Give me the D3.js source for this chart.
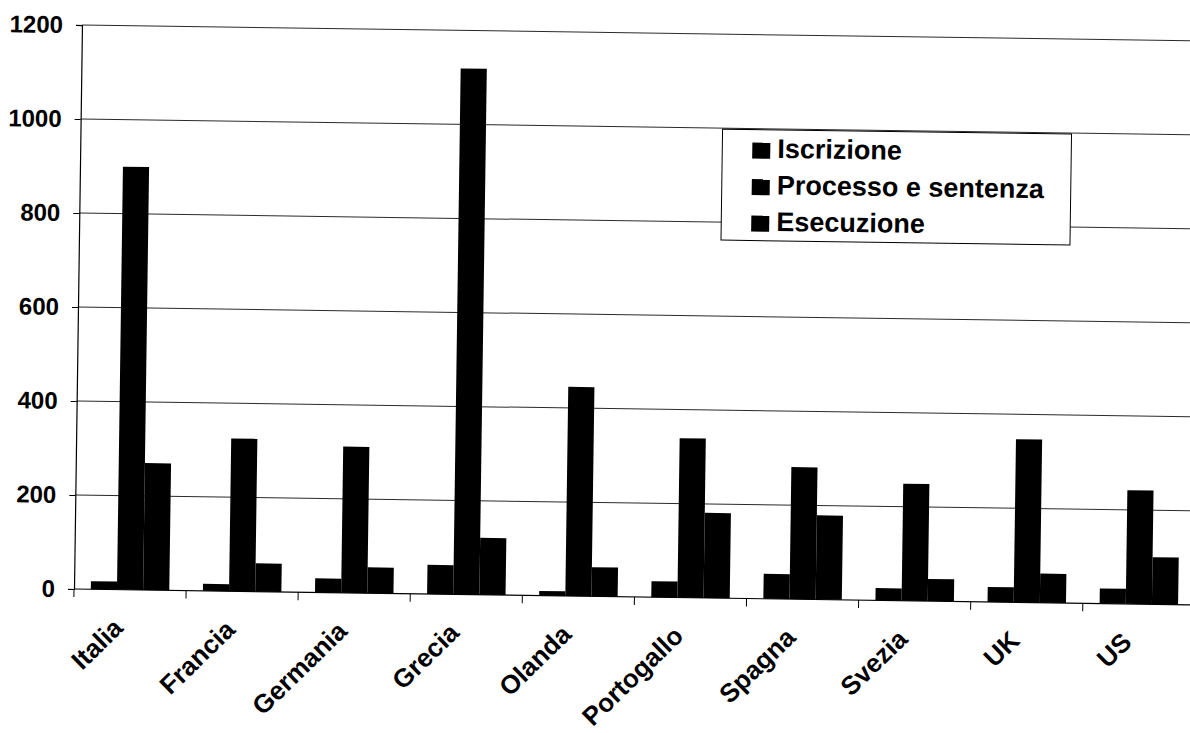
<!DOCTYPE html>
<html>
<head>
<meta charset="utf-8">
<script src="https://cdn.jsdelivr.net/npm/d3@7"></script>
<style>
  html, body { margin: 0; padding: 0; background: #fff; }
  svg { display: block; }
  text { font-family: "Liberation Sans", Arial, sans-serif; font-weight: bold; fill: #000; }
</style>
</head>
<body>
<svg id="chart" width="1190" height="733"></svg>
<script>
const categories = ["Italia", "Francia", "Germania", "Grecia", "Olanda", "Portogallo", "Spagna", "Svezia", "UK", "US"];
const seriesNames = ["Iscrizione", "Processo e sentenza", "Esecuzione"];
const iscrizione = [17, 15, 30, 62, 10, 34, 53, 26, 32, 32];
const processo   = [900, 325, 311, 1119, 445, 339, 281, 249, 347, 242];
const esecuzione = [270, 60, 55, 121, 62, 181, 179, 47, 62, 100];
const yTicks = [0, 200, 400, 600, 800, 1000, 1200];

const seriesValues = [iscrizione, processo, esecuzione];
const rows = categories.map((c, i) => ({ cat: c, vals: seriesValues.map(s => s[i]) }));

const svg = d3.select("#chart");
const pLeft = 74, pRight = 1195, pTop = 25, pBottom = 589;
const g = svg.append("g").attr("transform", `rotate(0.81 ${pLeft} ${pBottom})`);

const x0 = d3.scaleBand().domain(categories).range([pLeft, pRight]).paddingInner(0.3).paddingOuter(0.15);
const x1 = d3.scaleBand().domain(d3.range(seriesNames.length)).range([0, x0.bandwidth()]);
const y = d3.scaleLinear().domain([0, 1200]).range([pBottom, pTop]);

// gridlines
g.append("g").selectAll("line").data(yTicks.filter(d => d > 0)).join("line")
  .attr("x1", pLeft).attr("x2", pRight)
  .attr("y1", d => y(d)).attr("y2", d => y(d))
  .attr("stroke", "#2a2a2a").attr("stroke-width", 1);

// y axis
const yAxis = g.append("g").attr("transform", `translate(${pLeft},0)`)
  .call(d3.axisLeft(y).tickValues(yTicks).tickSize(6).tickPadding(13).tickFormat(d3.format("d")));
yAxis.select(".domain").attr("stroke", "#000").attr("stroke-width", 1.2);
yAxis.selectAll(".tick line").attr("stroke", "#000");
yAxis.selectAll(".tick text").attr("font-size", 24).attr("font-family", "Liberation Sans, Arial, sans-serif").attr("font-weight", "bold");

// bars
const groups = g.append("g").selectAll("g").data(rows).join("g")
  .attr("transform", d => `translate(${x0(d.cat)},0)`);
groups.selectAll("rect").data(d => d.vals.map((v, k) => ({ k, v }))).join("rect")
  .attr("x", d => x1(d.k)).attr("width", x1.bandwidth())
  .attr("y", d => y(d.v)).attr("height", d => y(0) - y(d.v))
  .attr("fill", "#000");

// x axis line and boundary ticks
const step = x0.step();
const bounds = categories.map(c => x0(c) - step * 0.15).concat([pRight]);
g.append("line").attr("x1", pLeft).attr("x2", pRight).attr("y1", pBottom).attr("y2", pBottom)
  .attr("stroke", "#000").attr("stroke-width", 1.2);
g.append("g").selectAll("line").data(bounds).join("line")
  .attr("x1", d => d).attr("x2", d => d).attr("y1", pBottom).attr("y2", pBottom + 8)
  .attr("stroke", "#000");

// x labels
g.append("g").selectAll("text").data(categories).join("text")
  .attr("text-anchor", "end").attr("font-size", 26)
  .attr("transform", d => `translate(${x0(d) + x0.bandwidth() / 2 - 5},${pBottom + 40}) rotate(-45)`)
  .text(d => d);

// legend
const lg = g.append("g").attr("transform", "translate(716,120)");
lg.append("rect").attr("width", 349).attr("height", 111).attr("fill", "#fff").attr("stroke", "#000").attr("stroke-width", 1);
const items = lg.selectAll("g").data(seriesNames).join("g")
  .attr("transform", (d, i) => `translate(0,${28 + i * 36.5})`);
items.append("rect").attr("x", 30).attr("y", -15).attr("width", 18).attr("height", 16).attr("fill", "#000");
items.append("text").attr("x", 55).attr("y", 0).attr("font-size", 27).text(d => d);
</script>
</body>
</html>
